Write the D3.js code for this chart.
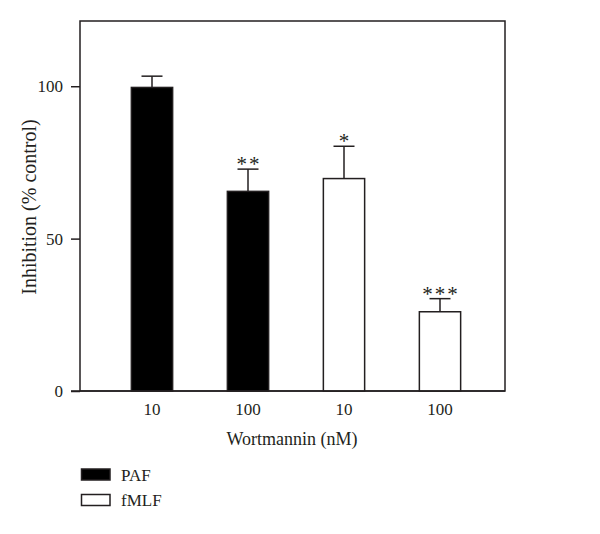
<!DOCTYPE html>
<html><head><meta charset="utf-8">
<script src="https://cdn.jsdelivr.net/npm/d3@7"></script>
<style>body{margin:0;background:#fff}text{font-family:"Liberation Serif","Times New Roman",serif;fill:#231f20}</style>
</head><body>
<svg id="c" width="600" height="534"></svg>
<script>
const categories = ["PAF 10", "PAF 100", "fMLF 10", "fMLF 100"];
const doseLabels = ["10", "100", "10", "100"];
const groups = ["PAF", "PAF", "fMLF", "fMLF"];
const values = [99.6, 65.5, 69.7, 26.0];
const errors = [3.7, 7.3, 10.6, 4.3];
const stars = ["", "**", "*", "***"];
const yTicks = [0, 50, 100];
const legendItems = ["PAF", "fMLF"];
const fills = {PAF: "#000", fMLF: "#fff"};

const svg = d3.select("#c");
const L = 80, R = 505, T = 21, B = 391;
const y = d3.scaleLinear().domain([0, 121.4]).range([B, T]);
const x = d3.scaleBand().domain(categories).range([104, 488]).paddingInner(0.57).paddingOuter(0.285);
const ink = "#231f20";

// frame
svg.append("rect").attr("x", L).attr("y", T).attr("width", R - L).attr("height", B - T)
  .attr("fill", "none").attr("stroke", ink).attr("stroke-width", 1.5);

// bars
svg.selectAll("rect.bar").data(categories).enter().append("rect").attr("class", "bar")
  .attr("x", d => x(d)).attr("width", x.bandwidth())
  .attr("y", (d, i) => y(values[i])).attr("height", (d, i) => y(0) - y(values[i]))
  .attr("fill", (d, i) => fills[groups[i]]).attr("stroke", ink).attr("stroke-width", 1.5);

// error bars
const cap = 21;
categories.forEach((d, i) => {
  const cx = x(d) + x.bandwidth() / 2;
  svg.append("line").attr("x1", cx).attr("x2", cx).attr("y1", y(values[i])).attr("y2", y(values[i] + errors[i]))
    .attr("stroke", ink).attr("stroke-width", 1.5);
  svg.append("line").attr("x1", cx - cap / 2).attr("x2", cx + cap / 2)
    .attr("y1", y(values[i] + errors[i])).attr("y2", y(values[i] + errors[i]))
    .attr("stroke", ink).attr("stroke-width", 1.5);
  if (stars[i]) {
    svg.append("text").attr("x", cx + 1).attr("y", y(values[i] + errors[i]) + 2)
      .attr("text-anchor", "middle").attr("font-size", 21).attr("letter-spacing", 2).text(stars[i]);
  }
});

// y axis
const yAxis = d3.axisLeft(y).tickValues(yTicks).tickSize(9).tickPadding(8).tickSizeOuter(0);
const ga = svg.append("g").attr("transform", `translate(${L},0)`).call(yAxis);
ga.select(".domain").remove();
ga.selectAll("line").attr("stroke", ink).attr("stroke-width", 1.5);
ga.selectAll("text").attr("font-size", 17).attr("fill", ink).style("font-family", '"Liberation Serif",serif');
svg.append("line").attr("x1", L - 9).attr("x2", R).attr("y1", B).attr("y2", B).attr("stroke", ink).attr("stroke-width", 1.5);

// x labels
svg.selectAll("text.xl").data(categories).enter().append("text").attr("class", "xl")
  .attr("x", d => x(d) + x.bandwidth() / 2).attr("y", 415).attr("text-anchor", "middle")
  .attr("font-size", 17).text((d, i) => doseLabels[i]);

svg.append("text").attr("x", 292).attr("y", 445).attr("text-anchor", "middle").attr("font-size", 18).text("Wortmannin (nM)");
svg.append("text").attr("transform", "translate(36,207) rotate(-90)").attr("text-anchor", "middle")
  .attr("font-size", 20).text("Inhibition (% control)");

// legend
legendItems.forEach((g, i) => {
  const ly = 469 + i * 25.5;
  svg.append("rect").attr("x", 81.5).attr("y", ly).attr("width", 28.5).attr("height", 11)
    .attr("fill", fills[g]).attr("stroke", ink).attr("stroke-width", 1.5);
  svg.append("text").attr("x", 121).attr("y", ly + 11.5).attr("font-size", 17).text(g);
});
</script>
</body></html>
